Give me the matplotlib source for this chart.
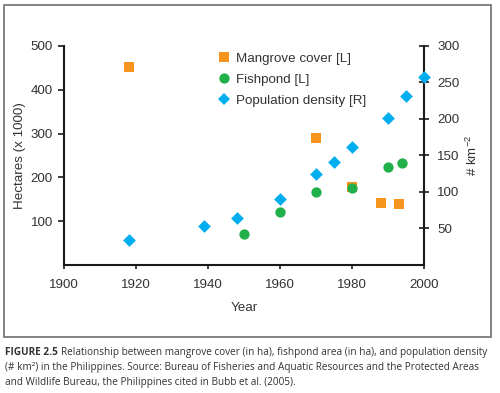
import matplotlib
matplotlib.use("Agg")
import matplotlib.pyplot as plt
from matplotlib.patches import Rectangle
from matplotlib.lines import Line2D

# Data
mangrove_years = [1918, 1970, 1980, 1988, 1993]
mangrove_vals = [452, 290, 179, 142, 140]
fish_years = [1950, 1960, 1970, 1980, 1990, 1994]
fish_vals = [71, 121, 166, 175, 223, 233]
pop_years = [1918, 1939, 1948, 1960, 1970, 1975, 1980, 1990, 1995, 2000]
pop_vals = [34, 54, 65, 90, 124, 141, 162, 202, 231, 258]

xticks = [1900, 1920, 1940, 1960, 1980, 2000]
lticks = [100, 200, 300, 400, 500]
rticks = [50, 100, 150, 200, 250, 300]

ORANGE = "#F7941D"
GREEN = "#22B04B"
BLUE = "#00AEEF"
TXT = "#333333"

plt.rcParams["font.family"] = ["Liberation Sans", "DejaVu Sans"]
plt.rcParams["mathtext.fontset"] = "custom"
plt.rcParams["mathtext.rm"] = "Liberation Sans"
plt.rcParams["mathtext.it"] = "Liberation Sans"

FS = 9.6

fig = plt.figure(figsize=(5.0, 3.93), dpi=100)
fig.patch.set_facecolor("white")

ax = fig.add_axes([0.128, 0.3257, 0.72, 0.5573])
ax2 = ax.twinx()

ax.set_xlim(1900, 2000)
ax.set_ylim(0, 500)
ax2.set_ylim(0, 300)

ax.scatter(mangrove_years, mangrove_vals, marker="s", s=52, color=ORANGE, zorder=3, linewidths=0)
ax.scatter(fish_years, fish_vals, marker="o", s=55, color=GREEN, zorder=3, linewidths=0)
ax2.scatter(pop_years, pop_vals, marker="D", s=42, color=BLUE, zorder=3, linewidths=0, clip_on=False)

for a in (ax, ax2):
    a.spines["top"].set_visible(False)
    a.patch.set_alpha(0)
ax.spines["right"].set_visible(False)
ax2.spines["left"].set_visible(False)
ax2.spines["bottom"].set_visible(False)
for s in ("left", "bottom"):
    ax.spines[s].set_linewidth(1.5)
    ax.spines[s].set_color("#1a1a1a")
ax2.spines["right"].set_linewidth(1.5)
ax2.spines["right"].set_color("#1a1a1a")

ax.set_xticks(xticks)
ax.set_yticks(lticks)
ax2.set_yticks(rticks)
ax.tick_params(axis="x", direction="out", length=3, width=1.2, pad=7, labelsize=FS, colors="#1a1a1a", labelcolor=TXT)
ax.tick_params(axis="y", direction="out", length=4, width=1.2, pad=4, labelsize=FS, colors="#1a1a1a", labelcolor=TXT)
ax2.tick_params(axis="y", direction="inout", length=7, width=1.2, pad=6, labelsize=FS, colors="#1a1a1a", labelcolor=TXT)

ax.set_xlabel("Year", fontsize=FS, color=TXT, labelpad=8)
ax.set_ylabel("Hectares (x 1000)", fontsize=FS, color=TXT, labelpad=3)
ax2.set_ylabel(r"# km$^{-2}$", fontsize=FS, color=TXT, labelpad=4)

handles = [
    Line2D([], [], marker="s", linestyle="", color=ORANGE, markersize=7.2, markeredgewidth=0),
    Line2D([], [], marker="o", linestyle="", color=GREEN, markersize=7.4, markeredgewidth=0),
    Line2D([], [], marker="D", linestyle="", color=BLUE, markersize=6.6, markeredgewidth=0),
]
labels = ["Mangrove cover [L]", "Fishpond [L]", "Population density [R]"]
leg = ax.legend(handles, labels, loc="upper left", bbox_to_anchor=(0.417, 0.995), frameon=False,
                fontsize=FS, handlelength=0.7, handletextpad=0.55, labelspacing=0.65, borderaxespad=0)
for t in leg.get_texts():
    t.set_color(TXT)

fig.patches.append(Rectangle((4 / 500, 1 - 336.5 / 393), 486.5 / 500, 331.5 / 393,
                             transform=fig.transFigure, fill=False, edgecolor="#7a7a7a", linewidth=1.3))

cap_font = ["Open Sans", "DejaVu Sans"]
CFS = 7.2
y0 = 1 - 352.7 / 393
t1 = fig.text(5 / 500, y0, "FIGURE 2.5", fontsize=CFS, fontweight="bold", family=cap_font, color=TXT, va="center")
fig.canvas.draw()
bb = t1.get_window_extent(renderer=fig.canvas.get_renderer())
x_next = (bb.x1 + 3) / fig.bbox.width
fig.text(x_next, y0, "Relationship between mangrove cover (in ha), fishpond area (in ha), and population density",
         fontsize=CFS, family=cap_font, color=TXT, va="center")
fig.text(5 / 500, 1 - 367.7 / 393,
         "(# km²) in the Philippines. Source: Bureau of Fisheries and Aquatic Resources and the Protected Areas",
         fontsize=CFS, family=cap_font, color=TXT, va="center")
fig.text(5 / 500, 1 - 382.5 / 393,
         "and Wildlife Bureau, the Philippines cited in Bubb et al. (2005).",
         fontsize=CFS, family=cap_font, color=TXT, va="center")

fig.savefig("out.png", dpi=100)
